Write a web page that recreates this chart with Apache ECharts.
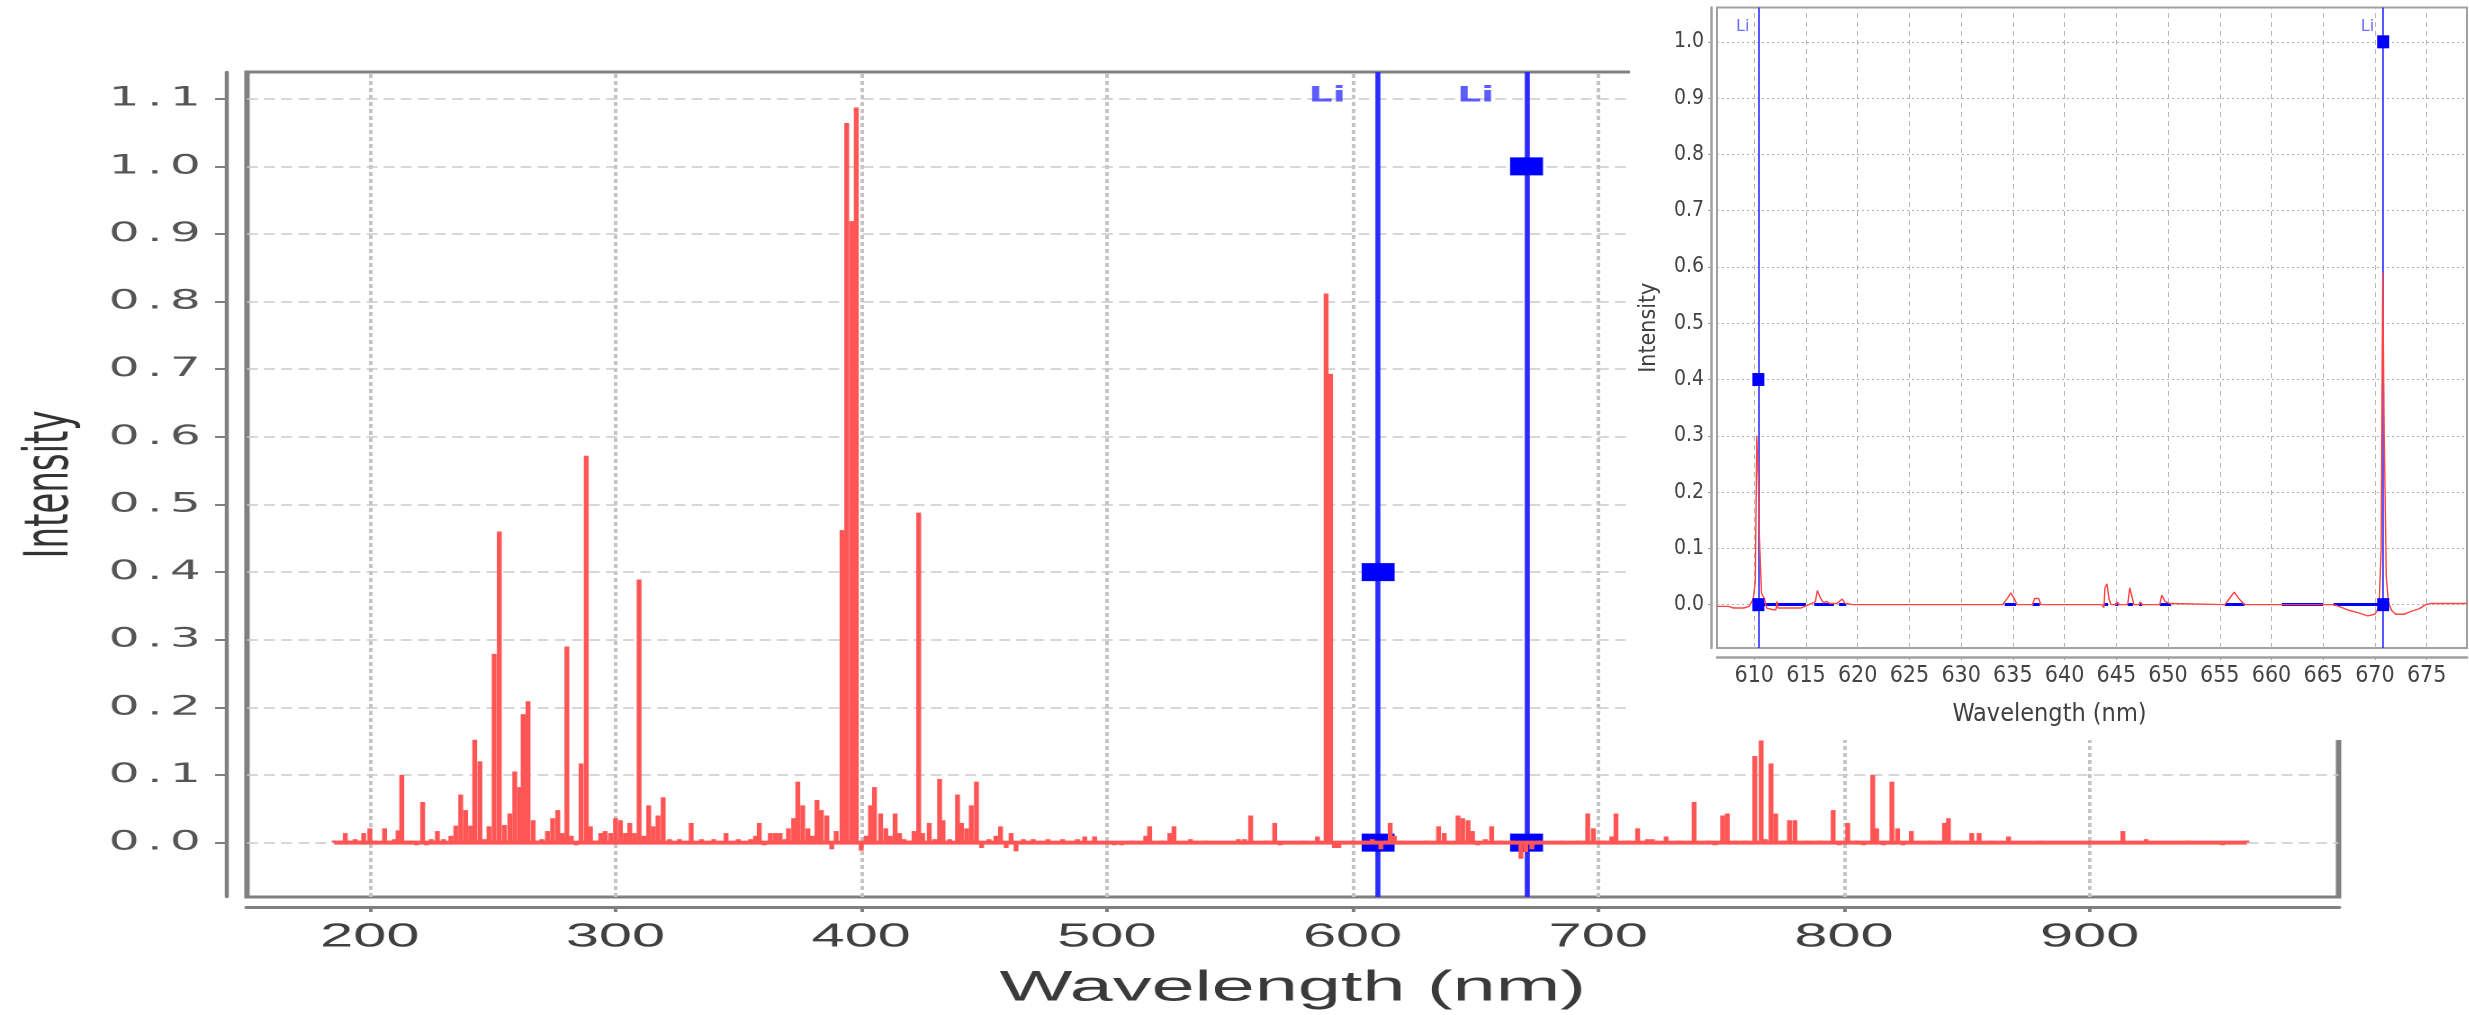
<!DOCTYPE html>
<html>
<head>
<meta charset="utf-8">
<title>Spectrum - Li lines</title>
<script src="https://cdn.jsdelivr.net/npm/echarts@6/dist/echarts.min.js"></script>
<style>
    html, body { margin: 0; padding: 0; background: #fff; overflow: hidden; }
    #wrap { position: relative; width: 2469px; height: 1015px; }
    /* the big chart is drawn narrow and stretched sideways, like the reference */
    #main { position: absolute; left: 0; top: 0; width: 1371.67px; height: 1015px; transform: scaleX(1.8); transform-origin: 0 0; }
    #inset { position: absolute; left: 1630px; top: 0; width: 839px; height: 740px; background: #fff; }
</style>
</head>
<body>
<div id="wrap">
    <div id="main"></div>
    <div id="inset"></div>
</div>
<script>
// ---- main spectrum (nm, intensity) ----
var wavelengths = [185.5, 188, 190, 192, 194, 196, 197.5, 200, 202, 206, 208, 210, 211.5, 213, 215, 217, 219, 221.5, 223, 225,
    227.5, 230, 233, 235, 237, 239, 241, 242.7, 244.8, 246.6, 248.5, 250.6, 252.7, 254.8, 257, 259, 261, 262.4, 264.4, 266.5,
    268.5, 270, 272.3, 274.4, 276.5, 278.3, 280.2, 282, 284, 286, 288.1, 289.8, 292, 294, 295.8, 298, 300, 302, 304, 305.8,
    307.7, 309.6, 311.5, 313.5, 315.4, 317.3, 319.4, 322, 326, 330.8, 335, 340, 345, 350, 355, 357, 358.5, 360.5, 363, 365,
    367, 369, 370.4, 372.5, 374.2, 376.2, 378.3, 380, 382, 383.8, 386, 388, 389.8, 392.2, 394.1, 396.1, 398, 400, 402, 403.8,
    405.4, 407.9, 410, 411.8, 413.8, 415.6, 417.5, 419.5, 421.5, 423.4, 425, 427.7, 430, 431.9, 433.3, 436, 439.2, 440.8, 442.9, 444.8,
    446.9, 449, 452, 454.8, 456.7, 459, 461, 463, 466, 470, 476, 482, 488, 491, 495, 503, 506, 510, 515.8, 517.4,
    522, 525.6, 527.3, 534, 540, 553.5, 556, 558.5, 565, 568.3, 570.5, 580, 585.7, 589.2, 591, 592.6, 594.4, 600, 605, 608,
    611.5, 614, 615.3, 617, 620, 630, 635, 637.3, 642.9, 644.8, 647, 648.8, 651, 654, 656.6, 660, 665, 668.5, 670.5, 673,
    676, 685, 692, 695.7, 698, 702, 705.5, 707.2, 712, 716, 720, 722, 727.6, 733, 739, 745, 747.5, 750.6, 752.5, 756,
    760, 763.7, 766.3, 768, 770.3, 772.2, 775, 777.8, 780, 785, 790, 795.6, 798, 801.5, 805, 808, 811.7, 813.3, 816, 819.5,
    821.8, 824, 827.4, 835, 840.9, 842.5, 846, 852, 855, 860, 867, 880, 900, 913.5, 923, 940, 954, 964];
var intensities = [0.003, 0.003, 0.014, 0.003, 0.005, 0.003, 0.014, 0.021, 0.003, 0.021, 0.003, 0.005, 0.018, 0.100, 0.003, 0.003, -0.004, 0.060, -0.004, 0.005,
    0.017, 0.005, 0.010, 0.025, 0.071, 0.048, 0.025, 0.152, 0.120, 0.005, 0.024, 0.279, 0.460, 0.026, 0.043, 0.105, 0.082, 0.190, 0.209, 0.033,
    0.003, 0.005, 0.017, 0.036, 0.048, 0.014, 0.290, 0.010, -0.004, 0.117, 0.572, 0.024, 0.003, 0.014, 0.017, 0.014, 0.036, 0.033, 0.014, 0.029,
    0.014, 0.389, 0.010, 0.055, 0.024, 0.040, 0.067, 0.005, 0.005, 0.029, 0.005, 0.005, 0.014, 0.005, 0.005, 0.010, 0.029, -0.004, 0.014, 0.014,
    0.014, 0.005, 0.021, 0.036, 0.090, 0.055, 0.021, 0.010, 0.063, 0.048, 0.040, -0.010, 0.017, 0.462, 1.064, 0.919, 1.087, -0.012, 0.010, 0.055,
    0.082, 0.043, 0.021, 0.010, 0.043, 0.014, 0.005, 0.003, 0.017, 0.488, 0.014, 0.029, 0.005, 0.094, 0.033, 0.005, 0.071, 0.029, 0.021, 0.055,
    0.090, -0.008, 0.005, 0.010, 0.024, -0.008, 0.014, -0.013, 0.005, 0.005, 0.005, 0.005, 0.005, 0.009, 0.009, -0.004, -0.004, 0.003, 0.010, 0.024,
    0.003, 0.014, 0.024, 0.005, 0.003, 0.005, 0.005, 0.040, 0.003, 0.029, -0.004, 0.003, 0.009, 0.812, 0.693, -0.008, -0.008, 0.003, 0.003, 0.005,
    -0.010, 0.003, 0.029, 0.010, 0.003, 0.003, 0.024, 0.014, 0.040, 0.036, 0.033, 0.017, -0.004, 0.005, 0.024, 0.003, 0.003, -0.024, -0.014, -0.010,
    0.003, 0.003, 0.003, 0.043, 0.021, 0.003, 0.009, 0.043, 0.003, 0.021, 0.005, 0.005, 0.009, 0.003, 0.060, 0.003, -0.004, 0.040, 0.043, 0.003,
    0.003, 0.128, 0.151, 0.005, 0.117, 0.043, 0.003, 0.033, 0.033, 0.003, 0.003, 0.048, -0.004, 0.029, 0.003, -0.004, 0.100, 0.021, -0.004, 0.090,
    0.021, -0.004, 0.017, 0.003, 0.029, 0.036, 0.003, 0.014, 0.014, 0.003, 0.009, 0.003, 0.003, 0.017, 0.005, 0.003, -0.004, 0.003];
var xTicks = [200, 300, 400, 500, 600, 700, 800, 900];
var yTicks = [0.0, 0.1, 0.2, 0.3, 0.4, 0.5, 0.6, 0.7, 0.8, 0.9, 1.0, 1.1];

// ---- Li reference lines ----
var liLines = [610.4, 670.8];
var liMarks = [0.4, 1.0];
var liLabel = 'Li';

// ---- zoomed view 606-679 nm ----
var insetWl = [606.4, 607.5, 608, 609, 609.5, 609.9, 610.1, 610.25, 610.4, 610.5, 610.7, 611.0, 611.2, 611.8, 612.1, 612.2, 612.3, 613.0, 614.5, 615.0,
    615.5, 615.9, 616.1, 616.4, 616.7, 617.0, 617.3, 618.0, 618.5, 618.8, 619.5, 634.0, 634.5, 634.8, 635.1, 635.4, 636.9, 637.1, 637.5, 637.7,
    643.6, 643.8, 643.9, 644.1, 644.3, 644.5, 645.0, 645.1, 645.3, 646.1, 646.3, 646.5, 646.7, 647.2, 647.3, 647.5, 649.2, 649.4, 649.7, 650.2,
    655.5, 656.1, 656.4, 656.8, 657.4, 661, 666, 666.5, 667.5, 668.5, 669.3, 670.0, 670.4, 670.6, 670.75, 670.9, 671.1, 671.3, 671.6, 672.0,
    672.8, 673.5, 674.3, 675.0, 675.5, 677, 678.9];
var insetInt = [-0.003, -0.003, -0.006, -0.006, -0.003, 0.010, 0.040, 0.300, 0.220, 0.120, 0.020, 0.010, -0.006, -0.009, -0.009, 0.006, -0.006, -0.006, -0.006, -0.002,
    0.002, 0.005, 0.025, 0.012, 0.003, 0.006, 0.002, 0.002, 0.010, 0.002, 0.000, 0.000, 0.012, 0.021, 0.012, 0.000, 0.000, 0.011, 0.011, 0.000,
    0.000, -0.005, 0.030, 0.037, 0.010, 0.000, 0.000, 0.005, 0.000, 0.000, 0.030, 0.015, 0.000, 0.000, 0.005, 0.000, 0.000, 0.017, 0.006, 0.002,
    0.000, 0.015, 0.022, 0.012, 0.000, 0.000, 0.000, -0.003, -0.010, -0.015, -0.020, -0.017, -0.005, 0.100, 0.590, 0.300, 0.050, 0.005, -0.010, -0.017,
    -0.017, -0.012, -0.007, 0.001, 0.002, 0.002, 0.002];
var matchStart = [610.4, 615.8, 618.2, 634.2, 636.9, 643.8, 644.9, 646.1, 647.2, 649.2, 655.5, 661.0, 666.0];
var matchEnd = [615.0, 617.7, 618.9, 635.3, 637.6, 644.2, 645.2, 646.6, 647.5, 650.3, 657.4, 665.0, 670.8];
var insetXTicks = [610, 615, 620, 625, 630, 635, 640, 645, 650, 655, 660, 665, 670, 675];
var insetYTicks = [0.0, 0.1, 0.2, 0.3, 0.4, 0.5, 0.6, 0.7, 0.8, 0.9, 1.0];

var RED = '#ff5555';
var BLUE = '#0000ff';

function liPoints() {
    var pts = [];
    liLines.forEach(function (x, i) {
        pts.push([x, liMarks[i]]);
        pts.push([x, 0]);
    });
    return pts;
}

// wide spaced tick text, each character in its own box
function spaced(v) {
    return v.toFixed(1).split('').map(function (c) {
        return c === '.' ? '{p|.}' : '{d|' + c + '}';
    }).join('');
}

// ================= main chart =================
var main = echarts.init(document.getElementById('main'), null, {devicePixelRatio: 2});
main.setOption({
    animation: false,
    backgroundColor: '#fff',
    grid: {left: 137.2, top: 72, right: 72.8, bottom: 110, show: true, borderColor: '#808080', borderWidth: 3, backgroundColor: '#fff'},
    xAxis: {
        type: 'value', min: 150, max: 1001.3, offset: 10,
        axisLine: {show: true, onZero: false, lineStyle: {color: '#808080', width: 3}},
        axisTick: {show: true, customValues: xTicks, length: 5, lineStyle: {color: '#808080', width: 2}},
        axisLabel: {customValues: xTicks, margin: 14, fontSize: 33, fontFamily: 'Liberation Sans', color: '#404040'},
        splitLine: {show: false},
        name: 'Wavelength (nm)', nameLocation: 'middle', nameGap: 60,
        nameTextStyle: {fontSize: 43, fontFamily: 'Liberation Sans', color: '#3a3a3a'}
    },
    yAxis: {
        type: 'value', min: -0.0805, max: 1.1395, offset: 11.7,
        axisLine: {show: true, onZero: false, lineStyle: {color: '#808080', width: 2.2}},
        axisTick: {show: true, customValues: yTicks, length: 6, lineStyle: {color: '#808080', width: 2}},
        axisLabel: {
            customValues: yTicks, margin: 13, color: '#555',
            formatter: spaced,
            rich: {
                d: {width: 19, align: 'center', fontSize: 27, fontFamily: 'DejaVu Sans', color: '#555'},
                p: {width: 15, align: 'center', fontSize: 27, fontFamily: 'DejaVu Sans', color: '#555'}
            }
        },
        splitLine: {show: false},
        name: 'Intensity', nameLocation: 'middle', nameRotate: 90, nameGap: 80,
        nameTextStyle: {fontSize: 34, fontFamily: 'DejaVu Sans', color: '#333'}
    },
    series: [
        {   // grid lines
            type: 'line', data: [], silent: true, z: 1,
            markLine: {
                z: 1, silent: true, symbol: ['none', 'none'], label: {show: false}, animation: false,
                data: xTicks.map(function (v) {
                    return {xAxis: v, lineStyle: {color: '#c4c4c4', width: 2, type: [4, 3]}};
                }).concat(yTicks.map(function (v) {
                    return {yAxis: v, lineStyle: {color: '#cacaca', width: 1.5, type: [6, 3.5]}};
                }))
            }
        },
        {   // Li lines
            type: 'line', data: [], silent: true, z: 2,
            markLine: {
                z: 2, silent: true, symbol: ['none', 'none'], label: {show: false}, animation: false,
                data: liLines.map(function (v) {
                    return {xAxis: v, lineStyle: {color: '#2b2bff', width: 2.8, type: 'solid'}};
                })
            }
        },
        {   // Li markers
            type: 'scatter', data: liPoints(), symbol: 'rect', symbolSize: [18.3, 18],
            itemStyle: {color: BLUE, opacity: 1}, z: 3, silent: true
        },
        {   // Li labels
            type: 'scatter', symbolSize: 0, z: 3, silent: true,
            data: liLines.map(function (x) { return [x, 1.104]; }),
            label: {show: true, formatter: liLabel, position: 'left', distance: 18,
                fontSize: 21, fontWeight: 'bold', fontFamily: 'DejaVu Sans', color: '#3333ff'}
        },
        {   // continuum baseline
            type: 'line', symbol: 'none', z: 4, silent: true,
            data: [[wavelengths[0], 0], [wavelengths[wavelengths.length - 1], 0]],
            lineStyle: {color: RED, width: 4}
        },
        {   // emission bars
            type: 'bar', barWidth: 2.7, z: 5, silent: true,
            data: wavelengths.map(function (w, i) { return [w, intensities[i]]; }),
            itemStyle: {color: RED}
        }
    ]
});

// ================= zoomed inset =================
var inset = echarts.init(document.getElementById('inset'));
var gridFont = '"Liberation Sans Narrow", "DejaVu Sans Condensed", "Liberation Sans", sans-serif';
inset.setOption({
    animation: false,
    backgroundColor: '#fff',
    title: {
        text: 'Wavelength (nm)', left: 'center', top: 697,
        textStyle: {fontSize: 25, fontWeight: 'normal', fontFamily: gridFont, color: '#404040'}
    },
    grid: {left: 84, top: 7.5, right: 2, bottom: 92, show: true, borderColor: '#a0a0a0', borderWidth: 2},
    xAxis: {
        type: 'value', min: 606.4, max: 678.9, offset: 9,
        axisLine: {show: true, onZero: false, lineStyle: {color: '#a0a0a0', width: 2.5}},
        axisTick: {show: true, customValues: insetXTicks, length: 3, lineStyle: {color: '#a0a0a0'}},
        axisLabel: {customValues: insetXTicks, margin: 8, fontSize: 23, fontFamily: gridFont, color: '#444'},
        splitLine: {show: false}
    },
    yAxis: {
        type: 'value', min: -0.077, max: 1.061, offset: 6,
        axisLine: {show: true, onZero: false, lineStyle: {color: '#a0a0a0', width: 2.5}},
        axisTick: {show: true, customValues: insetYTicks, length: 3, lineStyle: {color: '#a0a0a0'}},
        axisLabel: {
            customValues: insetYTicks, margin: 7, fontSize: 21, fontFamily: gridFont, color: '#444',
            formatter: function (v) { return v.toFixed(1); }
        },
        splitLine: {show: false},
        name: 'Intensity', nameLocation: 'middle', nameRotate: 90, nameGap: 50,
        nameTextStyle: {fontSize: 23, fontFamily: gridFont, color: '#404040'}
    },
    series: [
        {
            type: 'line', data: [], silent: true, z: 1,
            markLine: {
                z: 1, silent: true, symbol: ['none', 'none'], label: {show: false}, animation: false,
                data: insetXTicks.map(function (v) {
                    return {xAxis: v, lineStyle: {color: '#b8b8b8', width: 1, type: [5, 4]}};
                }).concat(insetYTicks.map(function (v) {
                    return {yAxis: v, lineStyle: {color: '#b0b0b0', width: 1.2, type: [2, 3]}};
                }))
            }
        },
        {   // Li lines
            type: 'line', data: [], silent: true, z: 2,
            markLine: {
                z: 2, silent: true, symbol: ['none', 'none'], label: {show: false}, animation: false,
                data: liLines.map(function (v) {
                    return {xAxis: v, lineStyle: {color: '#2f2fff', width: 1.6, type: 'solid'}};
                })
            }
        },
        {   // matched peak ranges
            type: 'line', data: [], silent: true, z: 3,
            markLine: {
                z: 3, silent: true, symbol: ['none', 'none'], label: {show: false}, animation: false,
                lineStyle: {color: BLUE, width: 3, type: 'solid'},
                data: matchStart.map(function (s, i) {
                    return [{coord: [s, 0]}, {coord: [matchEnd[i], 0]}];
                })
            }
        },
        {   // measured spectrum
            type: 'line', symbol: 'none', z: 4, silent: true,
            data: insetWl.map(function (w, i) { return [w, insetInt[i]]; }),
            lineStyle: {color: '#ff4444', width: 1.4}
        },
        {
            type: 'scatter', data: liPoints(), symbol: 'rect', symbolSize: [12, 13],
            itemStyle: {color: BLUE, opacity: 1}, z: 5, silent: true
        },
        {
            type: 'scatter', symbolSize: 0, z: 5, silent: true,
            data: liLines.map(function (x) { return [x, 1.027]; }),
            label: {show: true, formatter: liLabel, position: 'left', distance: 9,
                fontSize: 16, fontFamily: 'DejaVu Sans', color: '#4a4aff'}
        }
    ]
});
</script>
</body>
</html>
